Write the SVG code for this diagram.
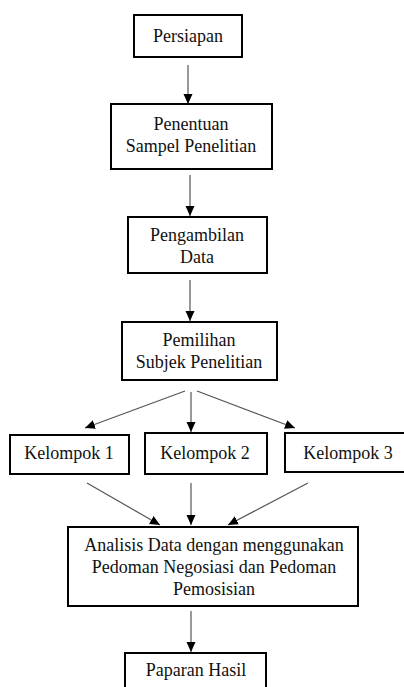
<svg xmlns="http://www.w3.org/2000/svg" width="404" height="687" viewBox="0 0 404 687">
<defs>
<style>
.box{fill:#fff;stroke:#000;stroke-width:2}
.t{font-family:"Liberation Serif","Times New Roman",serif;font-size:18px;fill:#111;text-anchor:middle}
.c{stroke:#555;stroke-width:1.2;fill:none;marker-end:url(#ah)}
</style>
<marker id="ah" viewBox="0 0 10 10" refX="10" refY="5" markerWidth="10" markerHeight="10" markerUnits="userSpaceOnUse" orient="auto">
<path d="M0,0.5 L10,5 L0,9.5 Z" fill="#000"/>
</marker>
</defs>
<rect width="404" height="687" fill="#fff"/>
<g id="connectors">
<line class="c" x1="188" y1="65" x2="188" y2="104"/>
<line class="c" x1="190" y1="175" x2="190" y2="216"/>
<line class="c" x1="190" y1="280" x2="190" y2="321"/>
<line class="c" x1="185" y1="391" x2="85" y2="428"/>
<line class="c" x1="191" y1="392" x2="191" y2="432"/>
<line class="c" x1="197" y1="391" x2="295" y2="428"/>
<line class="c" x1="87" y1="483" x2="160" y2="525"/>
<line class="c" x1="191" y1="483" x2="191" y2="525"/>
<line class="c" x1="308" y1="483" x2="228" y2="525"/>
<line class="c" x1="191" y1="611" x2="191" y2="652"/>
</g>
<g id="persiapan">
<rect class="box" x="134" y="15" width="108" height="42"/>
<text class="t" x="188" y="42">Persiapan</text>
</g>
<g id="penentuan">
<rect class="box" x="111" y="104" width="161" height="65"/>
<text class="t" x="191" y="130">Penentuan</text>
<text class="t" x="191" y="152">Sampel Penelitian</text>
</g>
<g id="pengambilan">
<rect class="box" x="128" y="217" width="139" height="56"/>
<text class="t" x="197" y="241">Pengambilan</text>
<text class="t" x="197" y="263">Data</text>
</g>
<g id="pemilihan">
<rect class="box" x="122" y="322" width="155" height="58"/>
<text class="t" x="199" y="346">Pemilihan</text>
<text class="t" x="199" y="368">Subjek Penelitian</text>
</g>
<g id="kelompok1">
<rect class="box" x="10" y="435" width="119" height="39"/>
<text class="t" x="69" y="459">Kelompok 1</text>
</g>
<g id="kelompok2">
<rect class="box" x="145" y="433" width="122" height="41"/>
<text class="t" x="205" y="459">Kelompok 2</text>
</g>
<g id="kelompok3">
<rect class="box" x="285" y="433" width="125" height="39"/>
<text class="t" x="348" y="459">Kelompok 3</text>
</g>
<g id="analisis">
<rect class="box" x="68" y="527" width="290" height="79"/>
<text class="t" x="214" y="551">Analisis Data dengan menggunakan</text>
<text class="t" x="214" y="573">Pedoman Negosiasi dan Pedoman</text>
<text class="t" x="214" y="595">Pemosisian</text>
</g>
<g id="paparan">
<rect class="box" x="125" y="653" width="141" height="50"/>
<text class="t" x="196" y="676">Paparan Hasil</text>
</g>
</svg>
